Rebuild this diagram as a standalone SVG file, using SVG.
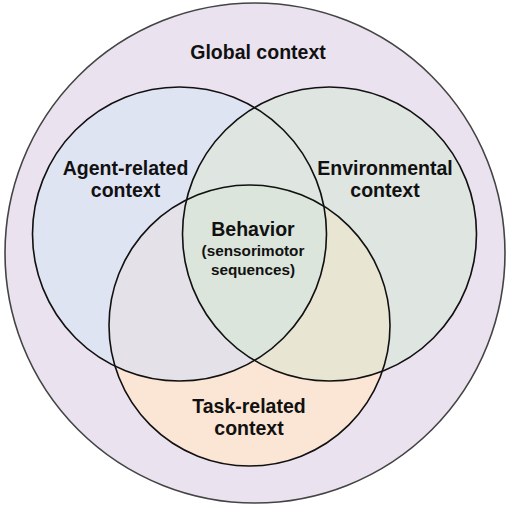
<svg xmlns="http://www.w3.org/2000/svg" width="510" height="510" viewBox="0 0 510 510">
<style>
.lbl{font-family:"Liberation Sans",Arial,sans-serif;font-weight:bold;font-size:19.5px;fill:#111;text-anchor:middle}
.sub{font-family:"Liberation Sans",Arial,sans-serif;font-weight:bold;font-size:15.3px;fill:#111;text-anchor:middle}
.ring{fill:none;stroke:#111;stroke-width:1.6}
</style>
<defs>
<clipPath id="cA"><circle cx="179.5" cy="234" r="147"/></clipPath>
<clipPath id="cE"><circle cx="329.5" cy="234" r="147"/></clipPath>
</defs>
<rect width="510" height="510" fill="#ffffff"/>
<g id="global">
<circle cx="255" cy="253" r="250" fill="#ebe2ef" stroke="#444" stroke-width="1.6"/>
<text class="lbl" x="258" y="59">Global context</text>
</g>
<g id="agent">
<circle cx="179.5" cy="234" r="147" fill="#dfe4f3"/>
</g>
<g id="environment">
<circle cx="329.5" cy="234" r="147" fill="#dfe5e0"/>
</g>
<g id="task">
<circle cx="249.5" cy="325.5" r="140.5" fill="#fbe5d4"/>
<circle cx="249.5" cy="325.5" r="140.5" fill="#e4e2e8" clip-path="url(#cA)"/>
<circle cx="249.5" cy="325.5" r="140.5" fill="#e8e6d3" clip-path="url(#cE)"/>
<g clip-path="url(#cA)"><circle cx="249.5" cy="325.5" r="140.5" fill="#dce5dc" clip-path="url(#cE)"/></g>
</g>
<g id="outlines">
<circle class="ring" cx="179.5" cy="234" r="147"/>
<circle class="ring" cx="329.5" cy="234" r="147"/>
<circle class="ring" cx="249.5" cy="325.5" r="140.5"/>
</g>
<g id="labels">
<text class="lbl" x="125.5" y="175">Agent-related</text>
<text class="lbl" x="125.5" y="197">context</text>
<text class="lbl" x="385" y="175">Environmental</text>
<text class="lbl" x="385" y="197">context</text>
<text class="lbl" x="253" y="236">Behavior</text>
<text class="sub" x="253" y="256">(sensorimotor</text>
<text class="sub" x="253" y="275">sequences)</text>
<text class="lbl" x="249" y="413">Task-related</text>
<text class="lbl" x="249" y="435">context</text>
</g>
</svg>
